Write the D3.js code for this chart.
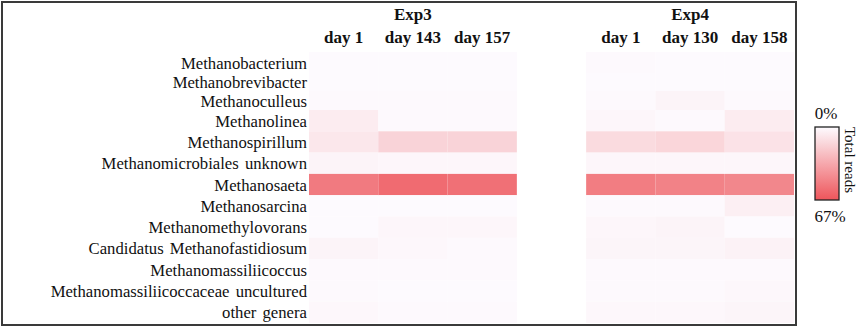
<!DOCTYPE html>
<html>
<head>
<meta charset="utf-8">
<script src="https://cdn.jsdelivr.net/npm/d3@7"></script>
<style>
  body { margin: 0; background: #fff; }
  svg text { font-family: "Liberation Serif", "DejaVu Serif", "Times New Roman", serif; }
</style>
</head>
<body>
<div id="chart"></div>
<script>
// genera (rows)
const genera = [
  "Methanobacterium", "Methanobrevibacter", "Methanoculleus", "Methanolinea",
  "Methanospirillum", "Methanomicrobiales unknown", "Methanosaeta", "Methanosarcina",
  "Methanomethylovorans", "Candidatus Methanofastidiosum", "Methanomassiliicoccus",
  "Methanomassiliicoccaceae uncultured", "other genera"
];
const experiments = ["Exp3", "Exp4"];
const exp3Days = ["day 1", "day 143", "day 157"];
const exp4Days = ["day 1", "day 130", "day 158"];

// % of total reads, one value per genus (same order as genera)
const exp3Day1   = [0.5, 0.5, 1.0, 6.0, 8.0, 3.0, 52, 0.5, 0.5, 3.0, 1.0, 1.0, 1.5];
const exp3Day143 = [0.5, 0.5, 1.0, 1.0, 16, 2.0, 58, 0.5, 2.0, 1.5, 1.0, 0.5, 1.0];
const exp3Day157 = [0.5, 0.5, 1.0, 1.0, 16, 2.0, 56, 0.5, 2.0, 1.0, 1.0, 0.5, 1.0];
const exp4Day1   = [1.0, 0.5, 1.0, 2.0, 13, 2.0, 51, 1.0, 2.0, 2.5, 1.0, 1.0, 1.5];
const exp4Day130 = [0.5, 0.5, 3.0, 1.0, 15, 2.0, 49, 1.0, 3.0, 2.5, 1.0, 1.0, 1.5];
const exp4Day158 = [0.5, 0.5, 1.0, 6.0, 10, 2.0, 47, 5.0, 0.5, 3.5, 1.0, 1.5, 2.5];
const legendTicks = ["0%", "67%"];
const maxValue = 67;

const W = 858, H = 328;
const FONT = '"Liberation Serif", "DejaVu Serif", "Times New Roman", serif';
const svg = d3.select("#chart").append("svg").attr("width", W).attr("height", H)
  .attr("font-family", FONT);

// columns: 3 + gap + 3
const columns = [
  {exp: 0, day: exp3Days[0], values: exp3Day1, key: "c0"},
  {exp: 0, day: exp3Days[1], values: exp3Day143, key: "c1"},
  {exp: 0, day: exp3Days[2], values: exp3Day157, key: "c2"},
  {exp: 1, day: exp4Days[0], values: exp4Day1, key: "c4"},
  {exp: 1, day: exp4Days[1], values: exp4Day130, key: "c5"},
  {exp: 1, day: exp4Days[2], values: exp4Day158, key: "c6"}
];
const x = d3.scaleBand().domain(["c0","c1","c2","gap","c4","c5","c6"]).range([309, 794]);
// row edges (the top rows are squeezed in the original)
const yEdge = d3.scaleLinear().domain([0, 1, 2, 3, genera.length]).range([52, 73, 91, 110, 323]);

const color = d3.scaleLinear().domain([0, maxValue]).range(["#fdfbff", "#ee555b"]).interpolate(d3.interpolateRgb);

// outer frame
svg.append("rect").attr("x", 2).attr("y", 2).attr("width", 794).attr("height", 323)
  .attr("fill", "none").attr("stroke", "#3a3a3a").attr("stroke-width", 2);

// cells
const cells = [];
columns.forEach(c => c.values.forEach((v, i) => cells.push({col: c.key, row: i, v: v})));
svg.append("g").selectAll("rect").data(cells).join("rect")
  .attr("x", d => x(d.col))
  .attr("y", d => yEdge(d.row))
  .attr("width", x.bandwidth())
  .attr("height", d => yEdge(d.row + 1) - yEdge(d.row))
  .attr("fill", d => color(d.v));

// row labels
svg.append("g").selectAll("text").data(genera).join("text")
  .attr("x", 307)
  .attr("y", (d, i) => yEdge(i + 0.5) + 6)
  .attr("text-anchor", "end")
  .attr("font-family", FONT)
  .attr("font-size", 16.7)
  .attr("word-spacing", 2)
  .attr("fill", "#111")
  .text(d => d);

// column headers
svg.append("g").selectAll("text").data(columns).join("text")
  .attr("x", d => x(d.key) + x.bandwidth() / 2)
  .attr("y", 43)
  .attr("text-anchor", "middle")
  .attr("font-family", FONT)
  .attr("font-size", 17).attr("font-weight", "bold").attr("fill", "#111")
  .text(d => d.day);

svg.append("g").selectAll("text").data(experiments).join("text")
  .attr("x", (d, i) => i === 0 ? (x("c0") + x("c2") + x.bandwidth()) / 2 : (x("c4") + x("c6") + x.bandwidth()) / 2)
  .attr("y", 20)
  .attr("text-anchor", "middle")
  .attr("font-family", FONT)
  .attr("font-size", 17).attr("font-weight", "bold").attr("fill", "#111")
  .text(d => d);

// legend
const defs = svg.append("defs");
const grad = defs.append("linearGradient").attr("id", "lg").attr("x1", 0).attr("y1", 0).attr("x2", 0).attr("y2", 1);
d3.range(0, 1.01, 0.25).forEach(t => {
  grad.append("stop").attr("offset", t).attr("stop-color", color(t * maxValue));
});
const ly = d3.scaleLinear().domain([0, maxValue]).range([127, 200]);
svg.append("rect").attr("x", 815).attr("y", ly(0)).attr("width", 24).attr("height", ly(maxValue) - ly(0))
  .attr("fill", "url(#lg)").attr("stroke", "#222").attr("stroke-width", 1.3);
svg.append("text").attr("x", 826).attr("y", ly(0) - 8).attr("text-anchor", "middle")
  .attr("font-family", FONT)
  .attr("font-size", 17).attr("fill", "#111").text(legendTicks[0]);
svg.append("text").attr("x", 830).attr("y", ly(maxValue) + 22).attr("text-anchor", "middle")
  .attr("font-family", FONT)
  .attr("font-size", 17).attr("fill", "#111").text(legendTicks[1]);
svg.append("text")
  .attr("transform", `translate(845,${ly(0)}) rotate(90)`)
  .attr("text-anchor", "start")
  .attr("font-family", FONT)
  .attr("font-size", 15).attr("fill", "#111")
  .text("Total reads");
</script>
</body>
</html>
